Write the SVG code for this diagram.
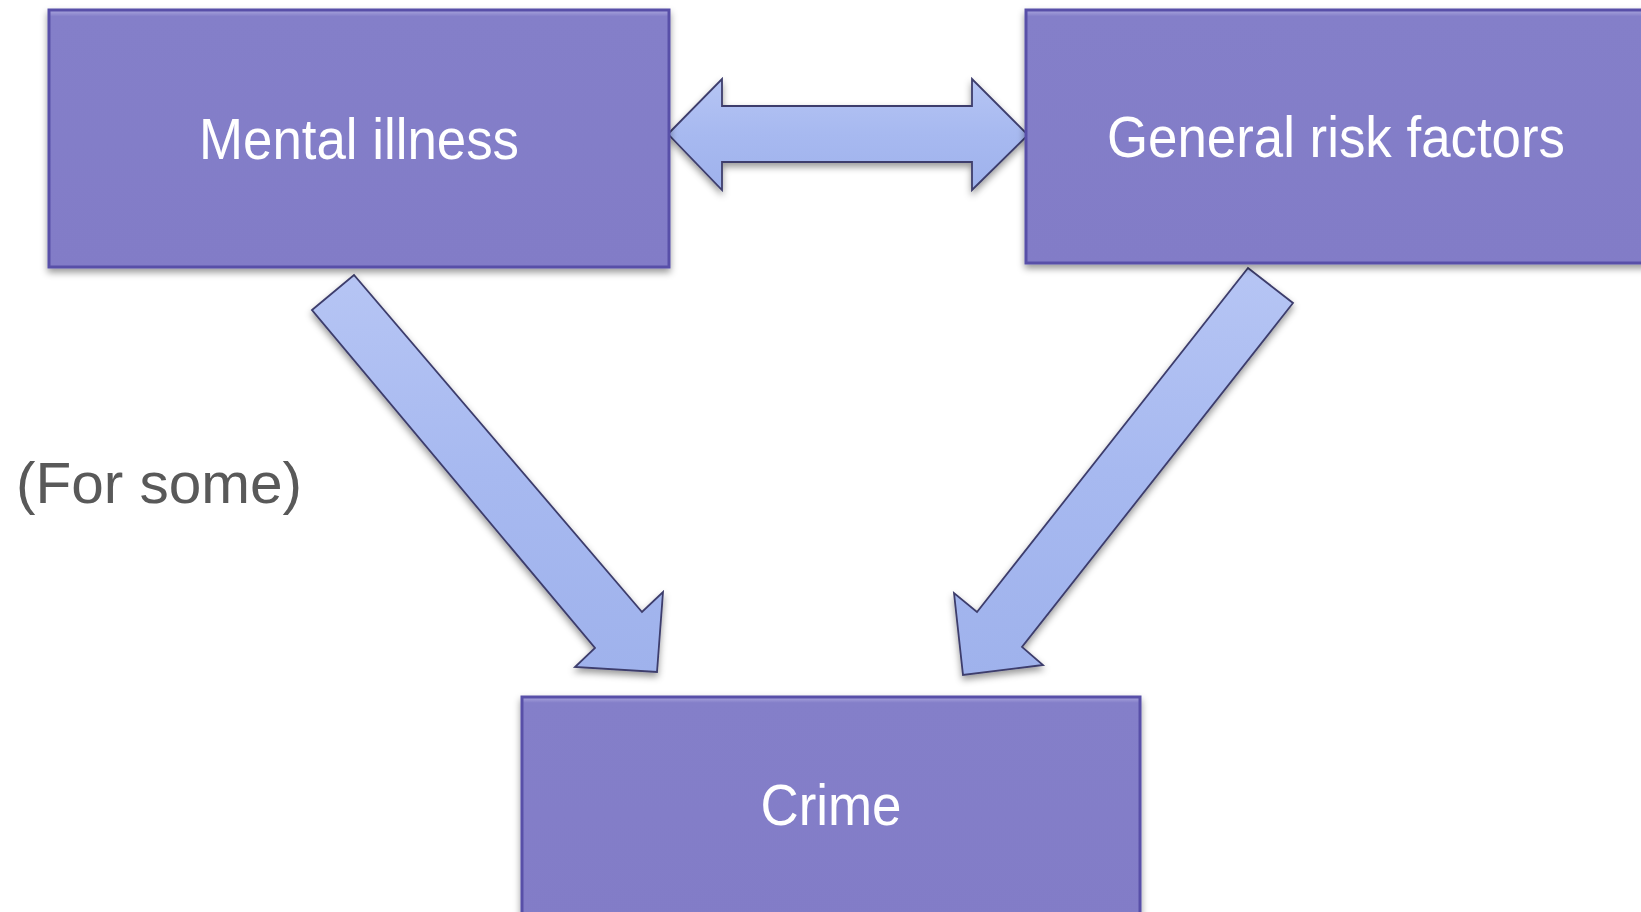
<svg xmlns="http://www.w3.org/2000/svg" width="1641" height="912" viewBox="0 0 1641 912">
  <defs>
    <filter id="shadow" x="-10%" y="-10%" width="120%" height="125%">
      <feDropShadow dx="0" dy="4" stdDeviation="3.5" flood-color="#000000" flood-opacity="0.4"/>
    </filter>
    <linearGradient id="boxGrad" x1="0" y1="0" x2="0" y2="1">
      <stop offset="0" stop-color="#aaa6dd"/>
      <stop offset="0.025" stop-color="#847fc9"/>
      <stop offset="1" stop-color="#827cc7"/>
    </linearGradient>
    <linearGradient id="arrowGrad" x1="0" y1="0" x2="0" y2="1">
      <stop offset="0" stop-color="#b6c5f4"/>
      <stop offset="0.5" stop-color="#a7b9f0"/>
      <stop offset="1" stop-color="#9fb2ec"/>
    </linearGradient>
  </defs>
  <style>
    .box { fill: url(#boxGrad); stroke: #5850a8; stroke-width: 3; filter: url(#shadow); }
    .arrow { fill: url(#arrowGrad); stroke: #3d3d6c; stroke-width: 1.8; stroke-linejoin: miter; filter: url(#shadow); }
    .label { fill: #ffffff; font-family: "Liberation Sans", Arial, sans-serif; font-size: 57px; text-anchor: middle; }
    .note { fill: #595959; font-family: "Liberation Sans", Arial, sans-serif; font-size: 58px; }
  </style>
  <rect width="1641" height="912" fill="#ffffff"/>

  <g id="connectors">
    <polygon class="arrow" points="668,134 722,79 722,106 972,106 972,79 1028,135 972,190 972,162 722,162 722,190"/>
    <polygon class="arrow" points="312,310 354,275 642,612 663,592 657,672 575,667 595,648"/>
    <polygon class="arrow" points="1248,268 1293,303 1022,647 1043,665 963,675 954,593 977,612"/>
  </g>

  <g id="node-mental-illness">
    <rect class="box" x="49" y="10" width="620" height="257"/>
    <text class="label" x="359" y="159" textLength="320" lengthAdjust="spacingAndGlyphs">Mental illness</text>
  </g>

  <g id="node-general-risk-factors">
    <rect class="box" x="1026" y="10" width="630" height="253"/>
    <text class="label" x="1336" y="157" textLength="458" lengthAdjust="spacingAndGlyphs">General risk factors</text>
  </g>

  <g id="node-crime">
    <rect class="box" x="522" y="697" width="618" height="230"/>
    <text class="label" x="831" y="825" textLength="141" lengthAdjust="spacingAndGlyphs">Crime</text>
  </g>

  <g id="note-for-some">
    <text class="note" x="16" y="503" textLength="286" lengthAdjust="spacingAndGlyphs">(For some)</text>
  </g>
</svg>
